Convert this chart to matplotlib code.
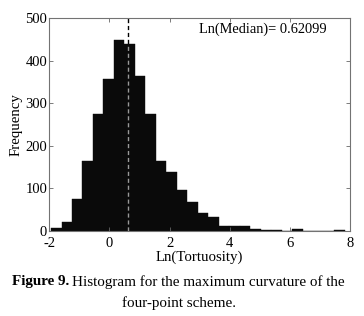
import numpy as np
import matplotlib
matplotlib.use('Agg')
import matplotlib.pyplot as plt

# histogram: 28 equal bins
binStart = -1.943
binWidth = 0.349
counts = [5, 19, 75, 164, 274, 358, 449, 439, 364, 274, 164, 139, 95, 67,
          42, 32, 11, 11, 11, 4, 2, 2, 0, 3, 0, 0, 0, 1]
lnMedian = 0.62099

xTicks = [-2, 0, 2, 4, 6, 8]
yTicks = [0, 100, 200, 300, 400, 500]

plt.rcParams['font.family'] = ['Liberation Serif', 'DejaVu Serif']
plt.rcParams['axes.unicode_minus'] = False

W, H = 364, 316
fig = plt.figure(figsize=(W / 100, H / 100), dpi=100)
ax = fig.add_axes([49.3 / W, 1 - 230.5 / H, (350 - 49.3) / W, (230.5 - 18.3) / H])

edges = binStart + binWidth * np.arange(len(counts) + 1)
ax.bar(edges[:-1], counts, width=binWidth, align='edge',
       color='#0a0a0a', edgecolor='#0a0a0a', linewidth=0.3)

# median line: black above the bars, light dashes inside the bar
ax.plot([lnMedian, lnMedian], [0, 500], color='black', linestyle='--',
        linewidth=1.0, dashes=(3, 2))
k = int((lnMedian - binStart) // binWidth)
ax.plot([lnMedian, lnMedian], [0, counts[k]], color='0.6', linestyle='--',
        linewidth=1.0, dashes=(3, 2))

ax.text(2.98, 474, 'Ln(Median)= 0.62099', fontsize=10.4, ha='left', va='center')

ax.set_xlim(-2, 8)
ax.set_ylim(0, 500)
ax.set_xticks(xTicks)
ax.set_yticks(yTicks)
ax.tick_params(direction='in', top=True, right=True, length=3, width=0.6,
               labelsize=10.5, colors='0.4', labelcolor='black')
ax.tick_params(axis='x', pad=4.5)
ax.tick_params(axis='y', pad=1.5)
for s in ax.spines.values():
    s.set_color('0.45')
    s.set_linewidth(0.8)

ax.set_xlabel('Ln(Tortuosity)', fontsize=10.7, labelpad=0.5)
ax.set_ylabel('Frequency', fontsize=10.7, labelpad=2)

# caption, bold label followed by normal text
fig.canvas.draw()
r = fig.canvas.get_renderer()
t1 = fig.text(12 / W, 1 - 282 / H, 'Figure 9.', fontsize=10.9, fontweight='bold',
              ha='left', va='center')
bb = t1.get_window_extent(renderer=r)
fig.text((bb.x1 + 3) / W, 1 - 282 / H,
         'Histogram for the maximum curvature of the',
         fontsize=10.9, ha='left', va='center')
fig.text(0.5 * (12 + 347) / W, 1 - 303.5 / H, 'four-point scheme.',
         fontsize=10.9, ha='center', va='center')

fig.savefig('out.png', dpi=100)
